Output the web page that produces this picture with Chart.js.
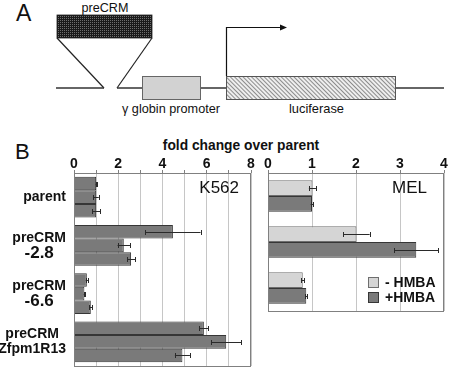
<!DOCTYPE html>
<html>
<head>
<meta charset="utf-8">
<script src="https://cdn.jsdelivr.net/npm/chart.js@4.4.1/dist/chart.umd.min.js"></script>
<style>
  html, body { margin: 0; padding: 0; background: #fff; }
  #page { position: relative; width: 450px; height: 369px; overflow: hidden; }
  .abs { position: absolute; }
  svg text { font-family: "Liberation Sans", Arial, sans-serif; fill: #111; }
</style>
</head>
<body>
<div id="page">
  <!-- panel A schematic + panel letters -->
  <svg class="abs" style="left:0;top:0" width="450" height="369">
    <defs>
      <pattern id="dots" width="2" height="2" patternUnits="userSpaceOnUse">
        <rect width="2" height="2" fill="#1a1a1a"/>
        <rect width="1" height="1" fill="#6e6e6e"/>
      </pattern>
      <pattern id="hatch" width="3" height="3" patternUnits="userSpaceOnUse" patternTransform="rotate(-45)">
        <rect width="3" height="3" fill="#eeeeee"/>
        <line x1="0.5" y1="0" x2="0.5" y2="3" stroke="#8c8c8c" stroke-width="1"/>
      </pattern>
    </defs>
    <text x="16" y="21" font-size="23">A</text>
    <text x="105" y="11.5" font-size="12.6" text-anchor="middle">preCRM</text>
    <rect x="57" y="15" width="95" height="23" fill="url(#dots)" stroke="#222" stroke-width="0.8"/>
    <line x1="57" y1="38" x2="104" y2="88" stroke="#222" stroke-width="1.2"/>
    <line x1="152" y1="38" x2="117" y2="88" stroke="#222" stroke-width="1.2"/>
    <line x1="56" y1="88" x2="104" y2="88" stroke="#333" stroke-width="1.3"/>
    <line x1="117" y1="88" x2="444" y2="88" stroke="#333" stroke-width="1.3"/>
    <rect x="142.5" y="76.5" width="58" height="23" fill="#d2d2d2" stroke="#666" stroke-width="1"/>
    <rect x="226.5" y="76.5" width="169" height="23" fill="url(#hatch)" stroke="#555" stroke-width="1"/>
    <polyline points="226.5,76 226.5,27.5 281,27.5" fill="none" stroke="#111" stroke-width="1.2"/>
    <polygon points="280,24.5 287,27.5 280,30.5" fill="#111"/>
    <text x="122" y="113" font-size="12.8" textLength="98" lengthAdjust="spacingAndGlyphs">γ globin promoter</text>
    <text x="289" y="113" font-size="12.8" textLength="55" lengthAdjust="spacingAndGlyphs">luciferase</text>
    <text x="15" y="158.5" font-size="22">B</text>
    <text x="241" y="150" font-size="13.8" font-weight="bold" text-anchor="middle">fold change over parent</text>
  </svg>
  <canvas id="k562Chart" class="abs" style="left:0;top:130px" width="258" height="239"></canvas>
  <canvas id="melChart" class="abs" style="left:258px;top:130px" width="192" height="190"></canvas>
</div>

<script>
// ---------------- data ----------------
const k562Categories = [['parent'], ['preCRM', '-2.8'], ['preCRM', '-6.6'], ['preCRM', 'Zfpm1R13']];
const k562Bar1 = [1.0, 4.47, 0.58, 5.87];
const k562Err1 = [0.02, 1.25, 0.05, 0.2];
const k562Bar2 = [1.0, 2.25, 0.47, 6.88];
const k562Err2 = [0.12, 0.28, 0.03, 0.67];
const k562Bar3 = [1.0, 2.58, 0.76, 4.9];
const k562Err3 = [0.18, 0.18, 0.06, 0.34];
const k562Ticks = [0, 2, 4, 6, 8];

const melCategories = ['parent', 'preCRM -2.8', 'preCRM -6.6'];
const melMinusHMBA = [1.01, 2.01, 0.79];
const melMinusErr = [0.08, 0.3, 0.03];
const melPlusHMBA = [1.0, 3.37, 0.87];
const melPlusErr = [0.03, 0.5, 0.02];
const melTicks = [0, 1, 2, 3, 4];

const FONT = '"Liberation Sans", Arial, sans-serif';
const DARK = '#7a7a7a', DARK_EDGE = '#363636';
const LIGHT = '#d5d5d5', LIGHT_EDGE = '#6e6e6e';

// ---------------- plugins ----------------
// error bars, read from dataset.errors
const errorBarPlugin = {
    id: 'errorBars',
    afterDatasetsDraw(chart) {
        const ctx = chart.ctx;
        const xs = chart.scales.x;
        ctx.save();
        ctx.strokeStyle = '#2a2a2a';
        ctx.lineWidth = 1;
        chart.data.datasets.forEach((ds, i) => {
            chart.getDatasetMeta(i).data.forEach((bar, j) => {
                const v = ds.data[j], e = ds.errors[j];
                const x0 = xs.getPixelForValue(v - e);
                const x1 = xs.getPixelForValue(v + e);
                const y = Math.round(bar.y) + 0.5;
                ctx.beginPath();
                ctx.moveTo(x0, y); ctx.lineTo(x1, y);
                ctx.moveTo(Math.round(x0) + 0.5, y - 2.5); ctx.lineTo(Math.round(x0) + 0.5, y + 2.5);
                ctx.moveTo(Math.round(x1) + 0.5, y - 2.5); ctx.lineTo(Math.round(x1) + 0.5, y + 2.5);
                ctx.stroke();
            });
        });
        ctx.restore();
    }
};

// box around plot, panel name, optional legend and category labels
const panelPlugin = {
    id: 'panel',
    afterDraw(chart, args, opts) {
        const ctx = chart.ctx;
        const a = chart.chartArea;
        ctx.save();
        ctx.strokeStyle = '#808080';
        ctx.lineWidth = 1;
        ctx.strokeRect(Math.round(a.left) + 0.5, Math.round(a.top) + 0.5,
            Math.round(a.right - a.left) - 1, Math.round(a.bottom - a.top));

        ctx.fillStyle = '#111';
        ctx.font = '17px ' + FONT;
        ctx.textAlign = 'right';
        ctx.textBaseline = 'middle';
        ctx.fillText(opts.title, a.right - opts.titleRight, a.top + 15);

        if (opts.legend) {
            ctx.font = 'bold 14px ' + FONT;
            ctx.textAlign = 'left';
            chart.data.datasets.forEach((ds, i) => {
                const y = a.bottom - 34 + i * 15;
                ctx.fillStyle = ds.backgroundColor;
                ctx.fillRect(a.right - 76, y, 11, 11);
                ctx.strokeStyle = ds.borderColor;
                ctx.strokeRect(a.right - 75.5, y + 0.5, 10, 10);
                ctx.fillStyle = '#111';
                ctx.fillText(ds.label, a.right - 59, y + 6);
            });
        }

        if (opts.categoryLabels) {
            // first line regular size, short numeric second lines a bit larger
            const ys = chart.scales.y;
            const fontFor = s => /^-?[\d.]+$/.test(s) ? 'bold 17px ' + FONT : 'bold 14px ' + FONT;
            ctx.fillStyle = '#111';
            ctx.textAlign = 'center';
            ctx.textBaseline = 'middle';
            chart.data.labels.forEach((lines, i) => {
                const w = Math.max(...lines.map(s => { ctx.font = fontFor(s); return ctx.measureText(s).width; }));
                const cx = opts.labelRight - w / 2;
                const cy = ys.getPixelForValue(i);
                lines.forEach((s, k) => {
                    ctx.font = fontFor(s);
                    ctx.fillText(s, cx, cy + (k - (lines.length - 1) / 2) * 15);
                });
            });
        }
        ctx.restore();
    }
};

function xAxis(max, shown, areaTop) {
    return {
        position: 'top',
        min: 0,
        max: max,
        afterFit: s => { s.height = areaTop; },
        ticks: {
            stepSize: 1,
            autoSkip: false,
            maxRotation: 0,
            padding: -1,
            color: '#111',
            font: { family: FONT, size: 14, weight: 'bold', lineHeight: 1 },
            callback: v => shown.includes(v) ? v : ''
        },
        grid: {
            color: '#c6c6c6',
            tickColor: '#808080',
            tickLength: 3,
            lineWidth: 1
        },
        border: { display: false }
    };
}

// ---------------- K562 ----------------
new Chart(document.getElementById('k562Chart'), {
    type: 'bar',
    data: {
        labels: k562Categories,
        datasets: [
            { label: 'rep 1', data: k562Bar1, errors: k562Err1 },
            { label: 'rep 2', data: k562Bar2, errors: k562Err2 },
            { label: 'rep 3', data: k562Bar3, errors: k562Err3 }
        ].map(d => Object.assign(d, {
            backgroundColor: DARK,
            borderColor: DARK_EDGE,
            borderWidth: 1,
            categoryPercentage: 0.84,
            barPercentage: 1.0
        }))
    },
    options: {
        indexAxis: 'y',
        responsive: false,
        animation: false,
        devicePixelRatio: 1,
        layout: { padding: { left: 74, right: 7, top: 0, bottom: 3 } },
        plugins: {
            legend: { display: false },
            tooltip: { enabled: false },
            panel: { title: 'K562', titleRight: 12, legend: false, categoryLabels: true, labelRight: 66 }
        },
        scales: {
            x: xAxis(8, k562Ticks, 43),
            y: { display: false }
        }
    },
    plugins: [errorBarPlugin, panelPlugin]
});

// ---------------- MEL ----------------
new Chart(document.getElementById('melChart'), {
    type: 'bar',
    data: {
        labels: melCategories,
        datasets: [
            { label: '- HMBA', data: melMinusHMBA, errors: melMinusErr, backgroundColor: LIGHT, borderColor: LIGHT_EDGE },
            { label: '+HMBA', data: melPlusHMBA, errors: melPlusErr, backgroundColor: DARK, borderColor: DARK_EDGE }
        ].map(d => Object.assign(d, {
            borderWidth: 1,
            categoryPercentage: 0.69,
            barPercentage: 1.0
        }))
    },
    options: {
        indexAxis: 'y',
        responsive: false,
        animation: false,
        devicePixelRatio: 1,
        layout: { padding: { left: 10, right: 6, top: 0, bottom: 9 } },
        plugins: {
            legend: { display: false },
            tooltip: { enabled: false },
            panel: { title: 'MEL', titleRight: 17, legend: true, categoryLabels: false }
        },
        scales: {
            x: xAxis(4, melTicks, 43),
            y: { display: false }
        }
    },
    plugins: [errorBarPlugin, panelPlugin]
});
</script>
</body>
</html>
